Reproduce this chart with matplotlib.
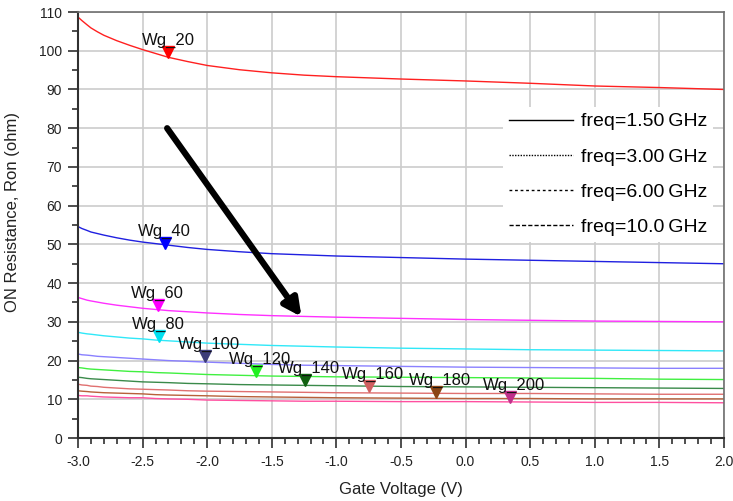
import numpy as np
import matplotlib
matplotlib.use("Agg")
import matplotlib.pyplot as plt
from matplotlib.lines import Line2D
from matplotlib.ticker import MultipleLocator

plt.rcParams['font.family'] = ['Liberation Sans', 'DejaVu Sans']

# gate voltage samples (V)
vg = [-3.0, -2.97, -2.93, -2.9, -2.85, -2.8, -2.7, -2.6, -2.5, -2.4, -2.3, -2.15,
      -2.0, -1.75, -1.5, -1.25, -1.0, -0.5, 0.0, 0.5, 1.0, 1.5, 2.0]

# ON resistance (ohm) per gate width
ron_wg20 = [108.7, 107.8, 106.7, 105.9, 104.9, 104.0, 102.6, 101.4, 100.3, 99.3, 98.3, 97.2,
            96.2, 95.1, 94.3, 93.7, 93.3, 92.7, 92.2, 91.6, 90.9, 90.5, 90.0]
ron_wg40 = [54.6, 54.1, 53.6, 53.2, 52.8, 52.4, 51.7, 51.1, 50.6, 50.2, 49.8, 49.2,
            48.7, 48.1, 47.6, 47.3, 47.0, 46.6, 46.2, 45.9, 45.6, 45.3, 45.0]
ron_wg60 = [36.3, 36.0, 35.6, 35.4, 35.1, 34.8, 34.3, 33.9, 33.5, 33.2, 32.9, 32.6,
            32.3, 31.9, 31.6, 31.4, 31.2, 30.9, 30.6, 30.4, 30.2, 30.1, 30.0]
ron_wg80 = [27.3, 27.1, 26.9, 26.8, 26.6, 26.4, 26.1, 25.8, 25.6, 25.3, 25.1, 24.8,
            24.5, 24.2, 23.9, 23.7, 23.5, 23.2, 23.0, 22.8, 22.7, 22.6, 22.5]
ron_wg100 = [21.7, 21.5, 21.4, 21.3, 21.1, 21.0, 20.8, 20.6, 20.4, 20.2, 20.0, 19.8,
             19.6, 19.3, 19.0, 18.8, 18.7, 18.5, 18.3, 18.2, 18.1, 18.0, 18.0]
ron_wg120 = [18.2, 18.1, 17.9, 17.8, 17.7, 17.6, 17.4, 17.2, 17.1, 16.9, 16.8, 16.6,
             16.4, 16.2, 16.0, 15.9, 15.8, 15.7, 15.6, 15.5, 15.4, 15.2, 15.1]
ron_wg140 = [15.7, 15.6, 15.4, 15.3, 15.2, 15.1, 14.9, 14.7, 14.5, 14.4, 14.3, 14.1,
             14.0, 13.8, 13.7, 13.6, 13.5, 13.3, 13.2, 13.1, 13.0, 12.9, 12.8]
ron_wg160 = [13.9, 13.7, 13.6, 13.4, 13.3, 13.1, 12.9, 12.7, 12.6, 12.5, 12.4, 12.2,
             12.1, 12.0, 11.9, 11.8, 11.7, 11.6, 11.5, 11.5, 11.4, 11.3, 11.3]
ron_wg180 = [12.2, 12.1, 12.0, 11.9, 11.8, 11.7, 11.6, 11.5, 11.4, 11.2, 11.1, 11.0,
             10.9, 10.7, 10.6, 10.5, 10.4, 10.3, 10.2, 10.2, 10.1, 10.1, 10.1]
ron_wg200 = [11.0, 10.9, 10.9, 10.8, 10.7, 10.6, 10.5, 10.4, 10.4, 10.2, 10.1, 10.0,
             9.8, 9.7, 9.6, 9.5, 9.5, 9.4, 9.4, 9.3, 9.2, 9.2, 9.1]

curves = [ron_wg20, ron_wg40, ron_wg60, ron_wg80, ron_wg100,
          ron_wg120, ron_wg140, ron_wg160, ron_wg180, ron_wg200]
line_colors = ['#ff2020', '#2020e0', '#ff30ff', '#30e8f8', '#8a80ff',
               '#40f040', '#3a8a4a', '#e07070', '#b8603a', '#ff50a0']

# markers
marker_names = ['Wg_20', 'Wg_40', 'Wg_60', 'Wg_80', 'Wg_100',
                'Wg_120', 'Wg_140', 'Wg_160', 'Wg_180', 'Wg_200']
marker_x = [-2.30, -2.33, -2.38, -2.37, -2.02, -1.62, -1.24, -0.75, -0.23, 0.34]
marker_y = [99.7, 50.3, 34.3, 26.3, 21.2, 17.3, 15.0, 13.4, 11.9, 10.6]
marker_colors = ['#ff0000', '#0000ff', '#ff00ff', '#00e0f0', '#3c3c78',
                 '#20f020', '#106010', '#d06060', '#8b4513', '#c0308a']

legend_labels = ['freq=1.50\u2009GHz', 'freq=3.00\u2009GHz', 'freq=6.00\u2009GHz', 'freq=10.0\u2009GHz']
legend_styles = ['-', (0, (1, 1)), (0, (2, 2)), (0, (3, 1.5))]

# trend arrow (start, end) in data units
arrow_start = (-2.31, 80.0)
arrow_end = (-1.27, 31.3)

fig = plt.figure(figsize=(7.33, 5.01), dpi=100)
ax = fig.add_axes([0.1064, 0.1257, 0.8813, 0.8503])

for y, c in zip(curves, line_colors):
    ax.plot(vg, y, color=c, lw=1.0)

for name, x, y, c in zip(marker_names, marker_x, marker_y, marker_colors):
    ax.plot(x, y, marker='v', ms=8, color=c, mec=c, ls='none', zorder=5)
    ax.annotate(name, (x, y), xytext=(-27, 7), textcoords='offset pixels',
                ha='left', va='baseline', fontsize=12, color='#111111', zorder=6)

ax.annotate('', xy=arrow_end, xytext=arrow_start,
            arrowprops=dict(arrowstyle='-|>', lw=4.5, color='black',
                            mutation_scale=26, shrinkA=0, shrinkB=0))

ax.set_xlim(-3.0, 2.0)
ax.set_ylim(0, 110)
ax.xaxis.set_major_locator(MultipleLocator(0.5))
ax.xaxis.set_minor_locator(MultipleLocator(0.1))
ax.yaxis.set_major_locator(MultipleLocator(10))
ax.yaxis.set_minor_locator(MultipleLocator(5))
ax.xaxis.set_major_formatter(plt.FuncFormatter(lambda v, p: f'{v:.1f}'))
ax.tick_params(which='major', length=7.5, width=1.2, color='#303030',
               labelsize=10, labelcolor='#222222', pad=4)
ax.tick_params(axis='x', which='major', pad=5)
ax.tick_params(which='minor', length=4.5, width=1.2, color='#303030')
ax.grid(True, which='major', color='#cccccc', lw=1.2)
ax.set_axisbelow(True)

for side in ['left', 'bottom']:
    ax.spines[side].set_color('#303030')
    ax.spines[side].set_linewidth(1.5)
for side in ['top', 'right']:
    ax.spines[side].set_color('#707070')
    ax.spines[side].set_linewidth(1.2)

ax.set_xlabel('Gate Voltage (V)', fontsize=12, color='#222222', labelpad=9)
ax.set_ylabel('ON Resistance, Ron (ohm)', fontsize=12, color='#222222')
ax.yaxis.set_label_coords(-0.09, 0.53)

handles = [Line2D([0], [0], color='black', lw=1.0, ls=s) for s in legend_styles]
leg = ax.legend(handles, legend_labels, loc='upper left', bbox_to_anchor=(0.643, 0.80),
                fontsize=14, handlelength=3.3, handletextpad=0.42, labelspacing=0.9,
                frameon=True, fancybox=False, framealpha=1.0, borderpad=0.3)
leg.get_frame().set_edgecolor('none')
leg.get_frame().set_facecolor('white')

fig.savefig('out.png', dpi=100)
